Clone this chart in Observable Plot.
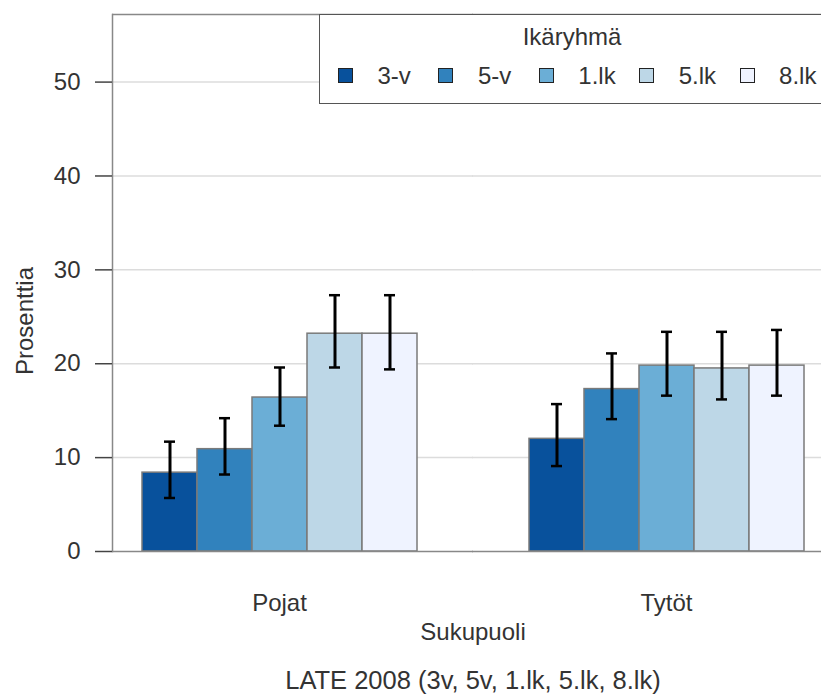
<!DOCTYPE html>
<html><head><meta charset="utf-8">
<script src="https://cdn.jsdelivr.net/npm/d3@7"></script>
<script src="https://cdn.jsdelivr.net/npm/@observablehq/plot@0.6"></script>
<style>
html,body{margin:0;padding:0;background:#fff;overflow:hidden;}
#wrap{position:relative;width:840px;height:695px;font-family:"Liberation Sans",Arial,sans-serif;color:#333;}
#wrap svg{max-width:none !important;display:block;}
#legend{position:absolute;left:319px;top:14px;width:506px;height:90px;border:1.5px solid #555;background:#fff;box-sizing:border-box;}
#legend .title{position:absolute;left:0;right:0;top:10px;text-align:center;font-size:24px;line-height:24px;}
#legend .sw{position:absolute;width:15px;height:15px;box-sizing:border-box;border:1.5px solid #222;}
#legend .lb{position:absolute;font-size:24px;line-height:24px;}
#caption{position:absolute;left:112px;width:722px;top:668px;text-align:center;font-size:25.5px;line-height:25px;}
</style></head>
<body><div id="wrap"></div>
<script>
const groups = ["Pojat", "Tytöt"];
const ages = ["3-v", "5-v", "1.lk", "5.lk", "8.lk"];
const pojatValues = [8.4, 10.9, 16.4, 23.2, 23.2];
const pojatLow = [5.7, 8.2, 13.4, 19.6, 19.4];
const pojatHigh = [11.7, 14.2, 19.6, 27.3, 27.3];
const tytotValues = [12.0, 17.3, 19.8, 19.5, 19.8];
const tytotLow = [9.1, 14.1, 16.6, 16.2, 16.6];
const tytotHigh = [15.7, 21.1, 23.4, 23.4, 23.6];
const yTicks = [0, 10, 20, 30, 40, 50];
const yDomain = [0, 57.2];
const colors = ["#08519c", "#3182bd", "#6baed6", "#bdd7e7", "#eff3ff"];
const legendTitle = "Ikäryhmä";
const xTitle = "Sukupuoli";
const yTitle = "Prosenttia";
const captionText = "LATE 2008 (3v, 5v, 1.lk, 5.lk, 8.lk)";

const values = [pojatValues, tytotValues];
const lows = [pojatLow, tytotLow];
const highs = [pojatHigh, tytotHigh];
const data = [];
groups.forEach((g, gi) => ages.forEach((a, ai) => data.push({
  sex: g, age: a, value: values[gi][ai], low: lows[gi][ai], high: highs[gi][ai]
})));

const font = '"Liberation Sans", Arial, sans-serif';
const gridLeft = {facetAnchor: "left", insetRight: -27};
const gridRight = {facetAnchor: "right", insetLeft: -27};
const chart = Plot.plot({
  width: 840, height: 655,
  marginLeft: 112, marginRight: 6, marginTop: 14, marginBottom: 104,
  style: {fontFamily: font, fontSize: "24px", color: "#333", background: "transparent", overflow: "visible"},
  x: {domain: ages, paddingInner: 0, paddingOuter: 0.5, axis: null},
  fx: {domain: groups, paddingInner: 0.1368, paddingOuter: 0, axis: null, label: null},
  y: {domain: yDomain, axis: null},
  color: {domain: ages, range: colors},
  marks: [
    Plot.ruleY(yTicks.slice(1), {y: d => d, stroke: "#dcdcdc", strokeWidth: 1.5, ...gridLeft}),
    Plot.ruleY(yTicks.slice(1), {y: d => d, stroke: "#dcdcdc", strokeWidth: 1.5, ...gridRight}),
    Plot.barY(data, {fx: "sex", x: "age", y: "value", fill: "age", stroke: "#7a7a7a", strokeWidth: 1.5}),
    Plot.ruleX(data, {fx: "sex", x: "age", y1: "low", y2: "high", stroke: "#000", strokeWidth: 3}),
    Plot.tickY(data, {fx: "sex", x: "age", y: "high", stroke: "#000", strokeWidth: 2.5, insetLeft: 22, insetRight: 22}),
    Plot.tickY(data, {fx: "sex", x: "age", y: "low", stroke: "#000", strokeWidth: 2.5, insetLeft: 22, insetRight: 22}),
    Plot.ruleY([yDomain[0]], {y: d => d, stroke: "#888", strokeWidth: 1.5, ...gridLeft}),
    Plot.ruleY([yDomain[0]], {y: d => d, stroke: "#888", strokeWidth: 1.5, ...gridRight}),
    Plot.ruleY([yDomain[1]], {y: d => d, stroke: "#888", strokeWidth: 1.5, ...gridLeft}),
    Plot.ruleY([yDomain[1]], {y: d => d, stroke: "#888", strokeWidth: 1.5, ...gridRight}),
    Plot.frame({anchor: "left", facetAnchor: "left", stroke: "#888", strokeWidth: 1.5}),
    Plot.axisY({ticks: yTicks, tickSize: 17, tickPadding: 15, fontSize: 24, stroke: "#444", strokeWidth: 1.5, label: null}),
    Plot.axisFx({anchor: "bottom", tickSize: 0, tickPadding: 42, fontSize: 24, label: null}),
    Plot.text([xTitle], {text: d => d, frameAnchor: "bottom", lineAnchor: "middle", textAnchor: "middle", dy: 81, fontSize: 24, fill: "#333", facet: "super"}),
    Plot.text([yTitle], {text: d => d, frameAnchor: "left", lineAnchor: "middle", textAnchor: "middle", rotate: -90, dx: -87, dy: 38, fontSize: 24, fill: "#333", facet: "super"})
  ]
});
const wrap = document.getElementById("wrap");
wrap.appendChild(chart);

const legend = document.createElement("div");
legend.id = "legend";
const title = document.createElement("div");
title.className = "title";
title.textContent = legendTitle;
legend.appendChild(title);
ages.forEach((a, i) => {
  const sw = document.createElement("div");
  sw.className = "sw";
  sw.style.left = (18 + 100.4 * i) + "px";
  sw.style.top = "53px";
  sw.style.background = colors[i];
  legend.appendChild(sw);
  const lb = document.createElement("div");
  lb.className = "lb";
  lb.style.left = (57.5 + 100.4 * i) + "px";
  lb.style.top = "49px";
  lb.textContent = a;
  legend.appendChild(lb);
});
wrap.appendChild(legend);

const cap = document.createElement("div");
cap.id = "caption";
cap.textContent = captionText;
wrap.appendChild(cap);
</script></body></html>
